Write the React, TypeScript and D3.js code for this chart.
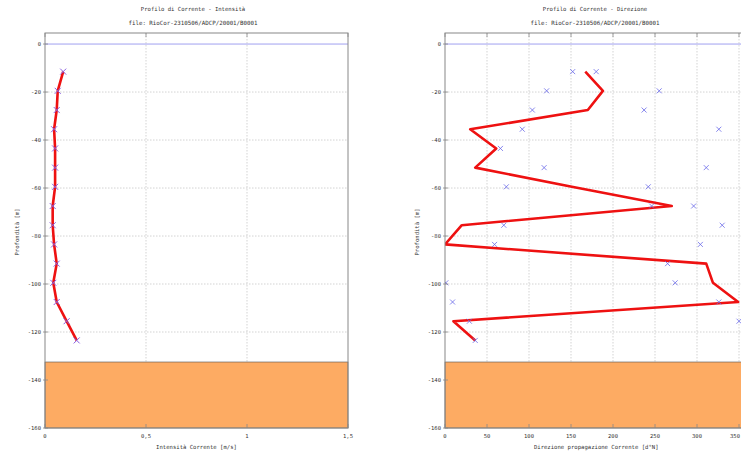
import React from "react";
import * as d3 from "d3";

const depths = [-11.5, -19.5, -27.5, -35.5, -43.5, -51.5, -59.5, -67.5, -75.5, -83.5, -91.5, -99.5, -107.5, -115.5, -123.5];
const intensity = [0.09, 0.063, 0.058, 0.045, 0.05, 0.05, 0.05, 0.038, 0.038, 0.045, 0.058, 0.041, 0.058, 0.107, 0.157];
const directionLine = [167, 188, 170, 30, 61, 36, 151, 270, 20, 0, 311, 319, 349, 10, 36];
const directionA = [152, 121, 104, 92, 66, 118, 73, 246, 70, 59, 265, 1, 9, 29, 36];
const directionB: (number | null)[] = [180, 255, 237, 326, null, 311, 242, 296, 330, 304, null, 274, 326, 350, null];
const seabed = -132.5;
const yTicks = [0, -20, -40, -60, -80, -100, -120, -140, -160];
const xTicksLeft = [0, 0.5, 1, 1.5];
const xTicksLeftLabels = ["0", "0,5", "1", "1,5"];
const xTicksRight = [0, 50, 100, 150, 200, 250, 300, 350];

const W = 741, H = 455;
const top = 33, bottom = 428;
const font = "DejaVu Sans Mono, monospace";

const yScale = d3.scaleLinear().domain([-160, 4.6]).range([bottom, top]);

function Cross({ x, y, s, color, w }: { x: number; y: number; s: number; color: string; w: number }) {
  return (
    <g stroke={color} strokeWidth={w}>
      <line x1={x - s} y1={y - s} x2={x + s} y2={y + s} />
      <line x1={x - s} y1={y + s} x2={x + s} y2={y - s} />
    </g>
  );
}

function Panel(props: {
  x0: number; x1: number; xScale: d3.ScaleLinear<number, number>;
  xticks: number[]; xlabels: string[]; title: string; file: string; xlabel: string; titleX: number;
  lineVals: number[]; markers: ((number | null)[])[]; markerColor: string; markerSize: number; markerW: number; clipId: string;
}) {
  const { x0, x1, xScale, xticks, xlabels, title, file, xlabel, titleX, lineVals, markers, clipId } = props;
  const line = d3.line<number>().x((v) => xScale(v)).y((_, i) => yScale(depths[i]));
  return (
    <g fontFamily={font}>
      <defs>
        <clipPath id={clipId}><rect x={x0} y={top} width={x1 - x0} height={bottom - top} /></clipPath>
      </defs>
      <text x={titleX} y={11} fontSize={5.6} textAnchor="middle" fill="#333">{title}</text>
      <text x={titleX} y={25} fontSize={5.8} textAnchor="middle" fill="#333">{file}</text>
      <rect x={x0} y={top} width={x1 - x0} height={bottom - top} fill="white" />
      {yTicks.filter((t) => t < 0 && t > -160).map((t) => (
        <line key={"gy" + t} x1={x0} x2={x1} y1={yScale(t)} y2={yScale(t)} stroke="#c8c8c8" strokeWidth={0.8} strokeDasharray="1.5,1.5" />
      ))}
      {xticks.filter((t, i) => i > 0 && xScale(t) < x1 - 1).map((t) => (
        <line key={"gx" + t} x1={xScale(t)} x2={xScale(t)} y1={top} y2={bottom} stroke="#c8c8c8" strokeWidth={0.8} strokeDasharray="1.5,1.5" />
      ))}
      <line x1={x0} x2={x1} y1={yScale(0)} y2={yScale(0)} stroke="#a0a0f0" strokeWidth={1} />
      <rect x={x0} y={yScale(seabed)} width={x1 - x0} height={bottom - yScale(seabed)} fill="#fdab63" stroke="#555" strokeWidth={0.6} />
      <g clipPath={`url(#${clipId})`}>
        <path d={line(lineVals) || ""} fill="none" stroke="#ee1111" strokeWidth={2.6} strokeLinejoin="round" />
        {markers.map((arr, k) =>
          arr.map((v, i) => v === null ? null : (
            <Cross key={k + "-" + i} x={xScale(v)} y={yScale(depths[i])} s={props.markerSize} color={props.markerColor} w={props.markerW} />
          ))
        )}
      </g>
      <rect x={x0} y={top} width={x1 - x0} height={bottom - top} fill="none" stroke="#888" strokeWidth={1} />
      {xticks.map((t) => (
        <g key={"tx" + t}>
          <line x1={xScale(t)} x2={xScale(t)} y1={top} y2={top + 4} stroke="#888" strokeWidth={0.8} />
          <line x1={xScale(t)} x2={xScale(t)} y1={bottom} y2={bottom - 4} stroke="#888" strokeWidth={0.8} />
        </g>
      ))}
      {yTicks.map((t) => (
        <g key={"ty" + t}>
          <line x1={x0 - 2} x2={x0 + 3} y1={yScale(t)} y2={yScale(t)} stroke="#888" strokeWidth={0.8} />
          <text x={x0 - 4} y={yScale(t) + 2} fontSize={5.5} textAnchor="end" fill="#333">{t}</text>
        </g>
      ))}
      {xticks.map((t, i) => {
        const px = xScale(t);
        const overflow = px + 6 > W;
        return (
          <text key={"lx" + t} x={overflow ? W - 1 : px} y={438} fontSize={5.5} textAnchor={overflow ? "end" : "middle"} fill="#333">{xlabels[i]}</text>
        );
      })}
      <text x={(x0 + Math.min(x1, 748)) / 2} y={449} fontSize={5.6} textAnchor="middle" fill="#333">{xlabel}</text>
      <text transform={`translate(${x0 - 26},${232}) rotate(-90)`} fontSize={5.6} textAnchor="middle" fill="#333">Profondità [m]</text>
    </g>
  );
}

export default function App() {
  const xLeft = d3.scaleLinear().domain([0, 1.5]).range([45, 348]);
  const xRight = d3.scaleLinear().domain([0, 360]).range([445, 747.4]);
  return (
    <svg width={W} height={H} style={{ position: "absolute", left: 0, top: 0, background: "white" }}>
      <rect width={W} height={H} fill="white" />
      <Panel x0={45} x1={348} xScale={xLeft} xticks={xTicksLeft} xlabels={xTicksLeftLabels}
        title="Profilo di Corrente - Intensità" file="file: RioCor-2310506/ADCP/20001/B0001" titleX={193}
        xlabel="Intensità  Corrente [m/s]" lineVals={intensity} markers={[intensity]}
        markerColor="#8a5fe0" markerSize={3} markerW={1} clipId="cl" />
      <Panel x0={445} x1={747.4} xScale={xRight} xticks={xTicksRight} xlabels={xTicksRight.map(String)}
        title="Profilo di Corrente - Direzione" file="file: RioCor-2310506/ADCP/20001/B0001" titleX={595}
        xlabel="Direzione propagazione Corrente [d°N]" lineVals={directionLine} markers={[directionA, directionB]}
        markerColor="#6a6ae8" markerSize={2.5} markerW={0.8} clipId="cr" />
    </svg>
  );
}
